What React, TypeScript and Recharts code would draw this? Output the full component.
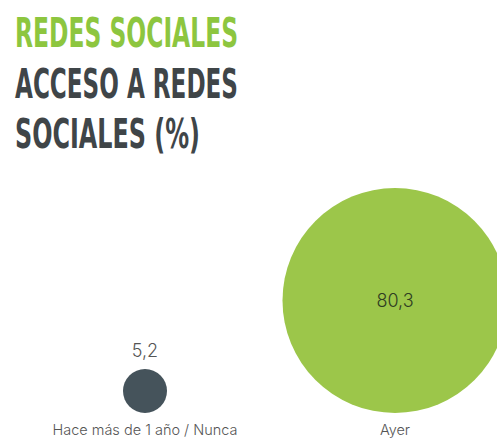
import { Scatter, ScatterChart, XAxis, YAxis, ZAxis } from "recharts";

// Acceso a redes sociales (%)
const categories = ["Hace más de 1 año / Nunca", "Ayer"];
const values = [5.2, 80.3];
const colors = ["#45535b", "#9cc64a"];
const titleLines = ["REDES SOCIALES", "ACCESO A REDES", "SOCIALES (%)"];

const data = categories.map((name, i) => ({
  name,
  base: 0,
  value: values[i],
  fill: colors[i],
}));

const fmt = (v: number) => v.toFixed(1).replace(".", ",");

// circles sit on a common baseline; value goes inside when there is room
function Bubble(props: any) {
  const { cx, cy, width, size, payload } = props;
  const r = width ? width / 2 : Math.sqrt(size / Math.PI);
  const y = cy - r;
  const inside = r > 40;
  return (
    <g>
      <circle cx={cx} cy={y} r={r} fill={payload.fill} />
      <text
        x={cx}
        y={inside ? y : y - r - 19}
        textAnchor="middle"
        dominantBaseline="central"
        fontSize={18}
        fontFamily="Inter, 'Open Sans', sans-serif"
        fontWeight={300}
        fill={inside ? "#2f3d22" : "#555"}
      >
        {fmt(payload.value)}
      </text>
    </g>
  );
}

export default function App() {
  return (
    <div
      style={{
        position: "absolute",
        left: 0,
        top: 0,
        width: 497,
        height: 447,
        overflow: "hidden",
        background: "#fff",
      }}
    >
      <svg
        width={497}
        height={160}
        style={{ position: "absolute", left: 0, top: 0 }}
      >
        {titleLines.map((t, i) => (
          <text
            key={t}
            x={15}
            y={47 + i * 50.5}
            fontSize={40}
            fontWeight={700}
            fontFamily="'Liberation Sans Narrow', 'DejaVu Sans Condensed', sans-serif"
            fill={i === 0 ? "#8dc63f" : "#3f4548"}
            textLength={i === 2 ? 185 : 223}
            lengthAdjust="spacingAndGlyphs"
          >
            {t}
          </text>
        ))}
      </svg>
      <ScatterChart
        width={520}
        height={447}
        margin={{ top: 160, right: 0, bottom: 0, left: 20 }}
        style={{ position: "absolute", left: 0, top: 0 }}
      >
        <XAxis
          dataKey="name"
          type="category"
          axisLine={false}
          tickLine={false}
          tickMargin={6}
          height={34}
          tick={{
            fontSize: 14.5,
            fill: "#555",
            fontFamily: "Inter, 'Open Sans', sans-serif",
            fontWeight: 300,
          }}
          interval={0}
        />
        <YAxis dataKey="base" type="number" domain={[0, 1]} hide />
        <ZAxis
          dataKey="value"
          type="number"
          domain={["dataMin", "dataMax"]}
          range={[1520, 39760]}
        />
        <Scatter data={data} shape={<Bubble />} isAnimationActive={false} />
      </ScatterChart>
    </div>
  );
}
